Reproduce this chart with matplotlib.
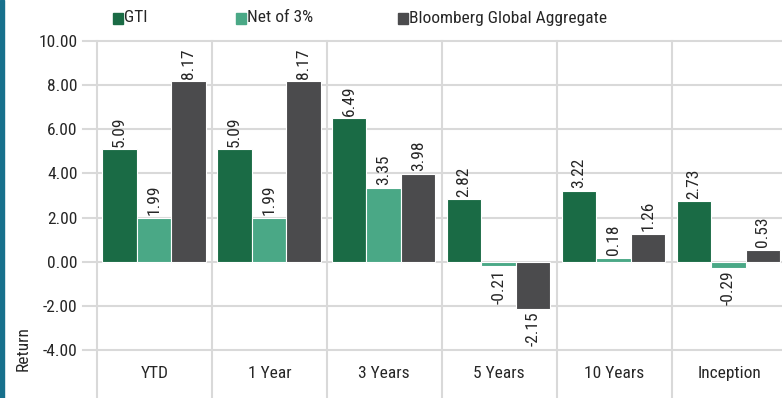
import matplotlib
matplotlib.use("Agg")
import matplotlib.pyplot as plt
from matplotlib import font_manager
from matplotlib.patches import Rectangle
import numpy as np

categories = ["YTD", "1 Year", "3 Years", "5 Years", "10 Years", "Inception"]
series_names = ["GTI", "Net of 3%", "Bloomberg Global Aggregate"]
gti = [5.09, 5.09, 6.49, 2.82, 3.22, 2.73]
net_of_3 = [1.99, 1.99, 3.35, -0.21, 0.18, -0.29]
bloomberg = [8.17, 8.17, 3.98, -2.15, 1.26, 0.53]
y_ticks = [-4, -2, 0, 2, 4, 6, 8, 10]
y_label = "Return"

colors = ["#1a6b45", "#4aa886", "#4b4b4d"]
grid_color = "#d9d9d9"
text_color = "#262626"

# pick a narrow sans if one is installed
available = {f.name for f in font_manager.fontManager.ttflist}
family = "DejaVu Sans"
for cand in ["Roboto Condensed", "Liberation Sans Narrow", "Arial Narrow",
             "DejaVu Sans Condensed", "Roboto"]:
    if cand in available:
        family = cand
        break
plt.rcParams["font.family"] = [family, "DejaVu Sans"]
fs = 12.5

W, H = 782, 398
fig = plt.figure(figsize=(W / 100, H / 100), dpi=100)
fig.patch.set_facecolor("white")

left_px, right_px, top_px, bottom_px = 97, 786.5, 41, 398
ax = fig.add_axes([left_px / W, 1 - bottom_px / H,
                   (right_px - left_px) / W, (bottom_px - top_px) / H])
ymin, ymax = -6.18, 10
ax.set_ylim(ymin, ymax)
ax.set_xlim(-0.5, len(categories) - 0.5)
for s in ax.spines.values():
    s.set_visible(False)

# horizontal gridlines, extending left past the axis as tick marks
ext = 14 / (right_px - left_px)
for yv in y_ticks:
    ax.axhline(yv, xmin=-ext, xmax=1, color=grid_color, lw=1.5,
               clip_on=False, zorder=0)

# vertical separators between categories
top_frac = (10 - ymin) / (ymax - ymin)
for b in np.arange(-0.5, len(categories) + 0.5, 1):
    ax.axvline(b, ymin=0, ymax=top_frac, color=grid_color, lw=1.5,
               clip_on=False, zorder=0)

x = np.arange(len(categories))
bw = 0.3
offsets = [-bw, 0, bw]
for vals, off, col in zip([gti, net_of_3, bloomberg], offsets, colors):
    ax.bar(x + off - 0.005, vals, width=bw, color=col,
           edgecolor="white", linewidth=0.8, zorder=2)
    for xi, v in zip(x, vals):
        if v >= 0:
            ax.annotate(f"{v:.2f}", (xi + off - 0.005, v), xytext=(0, 2),
                        textcoords="offset points", rotation=90,
                        ha="center", va="bottom", fontsize=fs,
                        color=text_color)
        else:
            ax.annotate(f"{v:.2f}", (xi + off - 0.005, v), xytext=(0, -2),
                        textcoords="offset points", rotation=90,
                        ha="center", va="top", fontsize=fs,
                        color=text_color)

ax.set_yticks(y_ticks)
ax.set_yticklabels([f"{t:.2f}" for t in y_ticks], fontsize=fs,
                   color=text_color)
ax.tick_params(axis="y", length=0, pad=14)
ax.set_xticks([])

# category labels beneath the -4 line
for xi, c in zip(x, categories):
    ax.text(xi, -5.05, c, ha="center", va="center", fontsize=fs,
            color=text_color)

fig.text(23 / W, 1 - 349 / H, y_label, rotation=90, ha="center",
         va="center", fontsize=12.5, color=text_color)

# legend
leg_x = [113, 236, 398]
for lx, name, col in zip(leg_x, series_names, colors):
    fig.patches.append(Rectangle((lx / W, 1 - 24 / H), 10 / W, 11 / H,
                                 transform=fig.transFigure, color=col))
    fig.text((lx + 11) / W, 1 - 18 / H, name, ha="left", va="center",
             fontsize=fs, color=text_color)

# accent stripe on the left edge
fig.patches.append(Rectangle((0, 0), 3.5 / W, 1, transform=fig.transFigure,
                             color="#17708c"))

fig.savefig("out.png", dpi=100)
